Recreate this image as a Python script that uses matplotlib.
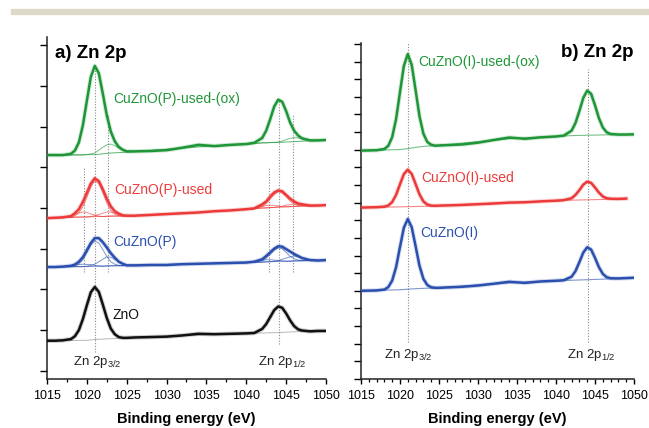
import numpy as np
import matplotlib.pyplot as plt
from matplotlib.patches import Rectangle
from matplotlib.ticker import MultipleLocator

plt.rcParams['font.family'] = ['Liberation Sans', 'DejaVu Sans']
plt.rcParams['mathtext.fontset'] = 'custom'
plt.rcParams['mathtext.rm'] = 'Liberation Sans'

energy = [1015, 1016, 1017, 1018, 1018.5, 1019, 1019.5, 1020, 1020.5, 1021,
          1021.5, 1022, 1022.5, 1023, 1023.5, 1024, 1024.5, 1025, 1026, 1028,
          1030, 1032, 1034, 1036, 1038, 1040, 1041, 1042, 1042.5, 1043,
          1043.5, 1044, 1044.5, 1045, 1045.5, 1046, 1046.5, 1047, 1048, 1049, 1050]

# panel a) spectra (offset intensity, a.u.)
p_used_ox = [5.30, 5.30, 5.30, 5.33, 5.41, 5.61, 6.03, 6.63, 7.22, 7.49,
             7.31, 6.81, 6.28, 5.88, 5.64, 5.50, 5.43, 5.39, 5.39, 5.40,
             5.42, 5.48, 5.55, 5.52, 5.55, 5.57, 5.60, 5.72, 5.90, 6.18,
             6.49, 6.66, 6.61, 6.38, 6.10, 5.90, 5.78, 5.71, 5.66, 5.66, 5.67]
p_used = [3.75, 3.76, 3.77, 3.80, 3.87, 3.97, 4.15, 4.37, 4.60, 4.73,
          4.66, 4.46, 4.23, 4.04, 3.92, 3.86, 3.82, 3.81, 3.81, 3.83,
          3.85, 3.87, 3.89, 3.92, 3.94, 3.97, 3.99, 4.09, 4.16, 4.28,
          4.38, 4.43, 4.41, 4.32, 4.23, 4.16, 4.11, 4.09, 4.06, 4.06, 4.07]
p_fresh = [2.55, 2.55, 2.56, 2.58, 2.61, 2.68, 2.79, 2.96, 3.14, 3.26,
           3.26, 3.16, 3.03, 2.89, 2.78, 2.68, 2.63, 2.59, 2.59, 2.60,
           2.60, 2.62, 2.63, 2.64, 2.65, 2.66, 2.68, 2.74, 2.82, 2.91,
           3.00, 3.06, 3.05, 2.99, 2.93, 2.87, 2.82, 2.77, 2.72, 2.71, 2.72]
zno = [0.74, 0.74, 0.75, 0.78, 0.85, 1.00, 1.27, 1.61, 1.93, 2.06,
       1.94, 1.63, 1.30, 1.04, 0.90, 0.83, 0.81, 0.81, 0.82, 0.83,
       0.84, 0.87, 0.91, 0.90, 0.91, 0.92, 0.93, 1.03, 1.15, 1.32,
       1.49, 1.58, 1.55, 1.41, 1.24, 1.10, 1.02, 0.99, 0.97, 0.98, 0.98]

# panel b) spectra
i_used_ox = [12.95, 12.96, 12.97, 13.04, 13.22, 13.71, 14.74, 16.26, 17.76, 18.42,
             17.82, 16.38, 14.90, 13.91, 13.44, 13.28, 13.23, 13.24, 13.26, 13.30,
             13.40, 13.55, 13.69, 13.62, 13.70, 13.75, 13.80, 14.08, 14.52, 15.20,
             15.94, 16.35, 16.17, 15.52, 14.79, 14.26, 13.99, 13.89, 13.86, 13.86, 13.87]
i_used = [9.72, 9.73, 9.74, 9.77, 9.84, 10.03, 10.44, 11.04, 11.62, 11.87,
          11.63, 11.06, 10.47, 10.07, 9.89, 9.83, 9.82, 9.83, 9.84, 9.87,
          9.91, 9.95, 10.00, 10.02, 10.07, 10.11, 10.14, 10.25, 10.44, 10.71,
          11.02, 11.19, 11.12, 10.86, 10.57, 10.35, 10.25, 10.22, 10.21, 10.23, np.nan]
i_fresh = [5.00, 5.01, 5.02, 5.07, 5.21, 5.58, 6.34, 7.48, 8.58, 9.07,
           8.61, 7.54, 6.42, 5.68, 5.33, 5.20, 5.17, 5.17, 5.19, 5.23,
           5.30, 5.40, 5.51, 5.45, 5.53, 5.57, 5.60, 5.80, 6.12, 6.63,
           7.17, 7.47, 7.34, 6.87, 6.34, 5.96, 5.77, 5.71, 5.70, 5.72, 5.74]

# backgrounds
bg_e_a = [1015, 1020, 1021, 1022, 1023, 1025, 1034, 1042, 1044, 1046, 1050]
bg_p_used_ox = [5.30, 5.31, 5.31, 5.33, 5.35, 5.37, 5.50, 5.60, 5.61, 5.63, 5.67]
bg_p_used = [3.75, 3.78, 3.79, 3.79, 3.80, 3.81, 3.89, 4.00, 4.02, 4.04, 4.07]
bg_p_fresh = [2.55, 2.56, 2.57, 2.57, 2.58, 2.59, 2.63, 2.67, 2.69, 2.70, 2.72]
bg_zno = [0.74, 0.75, 0.77, 0.78, 0.79, 0.81, 0.88, 0.93, 0.94, 0.96, 0.98]

bg_e_b = [1015, 1020, 1021, 1022, 1023, 1025, 1034, 1042, 1044, 1046, 1049, 1050]
bg_i_used_ox = [12.95, 13.01, 13.06, 13.13, 13.19, 13.24, 13.62, 13.80, 13.82, 13.84, 13.86, 13.87]
bg_i_used = [9.72, 9.76, 9.77, 9.78, 9.79, 9.83, 10.00, 10.14, 10.16, 10.18, 10.23, np.nan]
bg_i_fresh = [5.00, 5.06, 5.09, 5.12, 5.14, 5.17, 5.45, 5.60, 5.63, 5.66, 5.72, 5.74]

# fitted components in panel a) (3/2 window and 1/2 window)
win_32 = [1017, 1018, 1018.5, 1019, 1019.5, 1020, 1020.5, 1021, 1021.5, 1022,
          1022.5, 1023, 1023.5, 1024, 1024.5, 1025, 1026]
win_12 = [1040, 1041, 1042, 1042.5, 1043, 1043.5, 1044, 1044.5, 1045, 1045.5,
          1046, 1046.5, 1047, 1048, 1049]
comp_32 = {
    'used_ox': [[5.30, 5.30, 5.30, 5.30, 5.30, 5.31, 5.33, 5.35, 5.42, 5.49, 5.55, 5.57, 5.53, 5.47, 5.42, 5.39, 5.39]],
    'used': [[3.77, 3.80, 3.84, 3.88, 3.90, 3.89, 3.85, 3.83, 3.80, 3.79, 3.80, 3.80, 3.80, 3.80, 3.80, 3.81, 3.81],
             [3.77, 3.77, 3.78, 3.78, 3.78, 3.78, 3.79, 3.81, 3.84, 3.87, 3.90, 3.90, 3.87, 3.84, 3.82, 3.82, 3.81],
             [3.77, 3.78, 3.81, 3.88, 4.03, 4.26, 4.52, 4.67, 4.60, 4.38, 4.13, 3.94, 3.85, 3.81, 3.80, 3.81, 3.81]],
    'fresh': [[2.56, 2.57, 2.58, 2.63, 2.73, 2.90, 3.09, 3.19, 3.14, 2.98, 2.81, 2.68, 2.62, 2.59, 2.58, 2.59, 2.59],
              [2.56, 2.57, 2.59, 2.61, 2.62, 2.61, 2.61, 2.59, 2.58, 2.57, 2.58, 2.58, 2.58, 2.58, 2.58, 2.59, 2.59],
              [2.56, 2.56, 2.56, 2.56, 2.56, 2.57, 2.59, 2.62, 2.68, 2.74, 2.80, 2.79, 2.74, 2.68, 2.62, 2.61, 2.59]],
}
comp_12 = {
    'used_ox': [[5.57, 5.58, 5.60, 5.60, 5.61, 5.61, 5.62, 5.64, 5.68, 5.71, 5.73, 5.72, 5.70, 5.66, 5.66]],
    'used': [[3.97, 3.99, 4.04, 4.06, 4.07, 4.06, 4.05, 4.03, 4.03, 4.03, 4.04, 4.04, 4.05, 4.05, 4.06],
             [3.97, 3.98, 4.00, 4.00, 4.01, 4.01, 4.03, 4.04, 4.07, 4.08, 4.10, 4.09, 4.09, 4.06, 4.06],
             [3.97, 3.98, 4.04, 4.11, 4.22, 4.33, 4.40, 4.37, 4.28, 4.17, 4.10, 4.06, 4.06, 4.05, 4.06]],
    'fresh': [[2.66, 2.67, 2.71, 2.77, 2.86, 2.96, 3.02, 3.00, 2.91, 2.81, 2.75, 2.72, 2.71, 2.71, 2.71],
              [2.66, 2.68, 2.71, 2.73, 2.73, 2.72, 2.71, 2.70, 2.69, 2.69, 2.70, 2.70, 2.70, 2.71, 2.71],
              [2.66, 2.67, 2.67, 2.68, 2.68, 2.69, 2.71, 2.74, 2.77, 2.80, 2.82, 2.80, 2.77, 2.72, 2.71]],
}

GREEN = '#1e9638'
RED = '#ec3a3a'
BLUE = '#2a4fae'
BLACK = '#111111'

fig = plt.figure(figsize=(6.49, 4.28), dpi=100)
fig.patches.append(Rectangle((0.017, 0.967), 0.983, 0.012, transform=fig.transFigure,
                             color='#ddd9c9', zorder=0))

ax1 = fig.add_axes([0.0724, 0.1145, 0.4299, 0.7991])
ax2 = fig.add_axes([0.5562, 0.1145, 0.4207, 0.7850])


def style(ax, minor_x):
    for s in ['top', 'right']:
        ax.spines[s].set_visible(False)
    for s in ['left', 'bottom']:
        ax.spines[s].set_linewidth(1.1)
        ax.spines[s].set_color('#222222')
    ax.set_xlim(1015, 1050)
    ax.xaxis.set_major_locator(MultipleLocator(5))
    ax.xaxis.set_minor_locator(MultipleLocator(minor_x))
    ax.tick_params(axis='x', which='major', direction='out', length=3.5, width=1, pad=4.5, labelsize=9)
    ax.tick_params(axis='x', which='minor', direction='out', length=2.5, width=0.9)
    ax.tick_params(axis='y', which='major', direction='out', length=5, width=1, labelleft=False)
    ax.set_xlabel('Binding energy (eV)', fontsize=10.5, fontweight='bold', labelpad=7)


# ---- panel a ----
ax = ax1
style(ax, 2.5)
ax.set_ylim(-0.2, 8.2)
ax.yaxis.set_major_locator(MultipleLocator(1))

dot = dict(color='#888888', linestyle=(0, (1, 1.5)), linewidth=0.8, zorder=1)
ax.vlines(1021.0, 0.47, 7.46, **dot)
ax.vlines(1044.1, 0.66, 6.67, **dot)
ax.vlines([1022.7, 1045.9], 2.43, 6.28, **dot)
ax.vlines([1019.6, 1042.8], 2.43, 4.98, **dot)

series_a = [(p_used_ox, bg_p_used_ox, 'used_ox', GREEN),
            (p_used, bg_p_used, 'used', RED),
            (p_fresh, bg_p_fresh, 'fresh', BLUE),
            (zno, bg_zno, None, BLACK)]
for y, bg, key, c in series_a:
    bgc = '#999999' if key is None else c
    ax.plot(bg_e_a, bg, color=bgc, lw=0.7, alpha=0.7, zorder=2)
    if key is not None:
        for comp in comp_32[key]:
            ax.plot(win_32, comp, color=c, lw=0.7, alpha=0.6, zorder=2)
        for comp in comp_12[key]:
            ax.plot(win_12, comp, color=c, lw=0.7, alpha=0.6, zorder=2)
    ax.plot(energy, y, color=c, lw=3.2, alpha=0.2, zorder=3)
    ax.plot(energy, y, color=c, lw=1.8, zorder=4)

ax.text(1016.0, 7.8, 'a) Zn 2p', fontsize=13.5, fontweight='bold', va='center', ha='left')
labels_a = [('CuZnO(P)-used-(ox)', 1023.3, 6.67, GREEN),
            ('CuZnO(P)-used', 1023.5, 4.44, RED),
            ('CuZnO(P)', 1023.3, 3.17, BLUE),
            ('ZnO', 1023.2, 1.37, BLACK)]
for t, x, y, c in labels_a:
    ax.text(x, y, t, color=c, fontsize=10, va='center', ha='left')
ax.text(1018.3, 0.22, r'Zn 2p$_{\mathregular{3/2}}$', fontsize=9.5, color='#222222', va='center')
ax.text(1041.5, 0.22, r'Zn 2p$_{\mathregular{1/2}}$', fontsize=9.5, color='#222222', va='center')

# ---- panel b ----
ax = ax2
style(ax, 1)
ax.set_ylim(0, 19.05)
ax.yaxis.set_major_locator(MultipleLocator(1))

ax.vlines(1021.0, 2.10, 19.1, **dot)
ax.vlines(1044.1, 2.10, 17.56, **dot)

series_b = [(i_used_ox, bg_i_used_ox, GREEN),
            (i_used, bg_i_used, RED),
            (i_fresh, bg_i_fresh, BLUE)]
for y, bg, c in series_b:
    ax.plot(bg_e_b, bg, color=c, lw=0.8, alpha=0.6, zorder=2)
    ax.plot(energy, y, color=c, lw=3.2, alpha=0.2, zorder=3)
    ax.plot(energy, y, color=c, lw=1.8, zorder=4)

ax.text(1040.6, 18.5, 'b) Zn 2p', fontsize=13.5, fontweight='bold', va='center', ha='left')
labels_b = [('CuZnO(I)-used-(ox)', 1022.4, 18.0, GREEN),
            ('CuZnO(I)-used', 1022.7, 11.4, RED),
            ('CuZnO(I)', 1022.6, 8.3, BLUE)]
for t, x, y, c in labels_b:
    ax.text(x, y, t, color=c, fontsize=10, va='center', ha='left')
ax.text(1018.0, 1.36, r'Zn 2p$_{\mathregular{3/2}}$', fontsize=9.5, color='#222222', va='center')
ax.text(1041.4, 1.36, r'Zn 2p$_{\mathregular{1/2}}$', fontsize=9.5, color='#222222', va='center')

fig.savefig('out.png', dpi=100)
